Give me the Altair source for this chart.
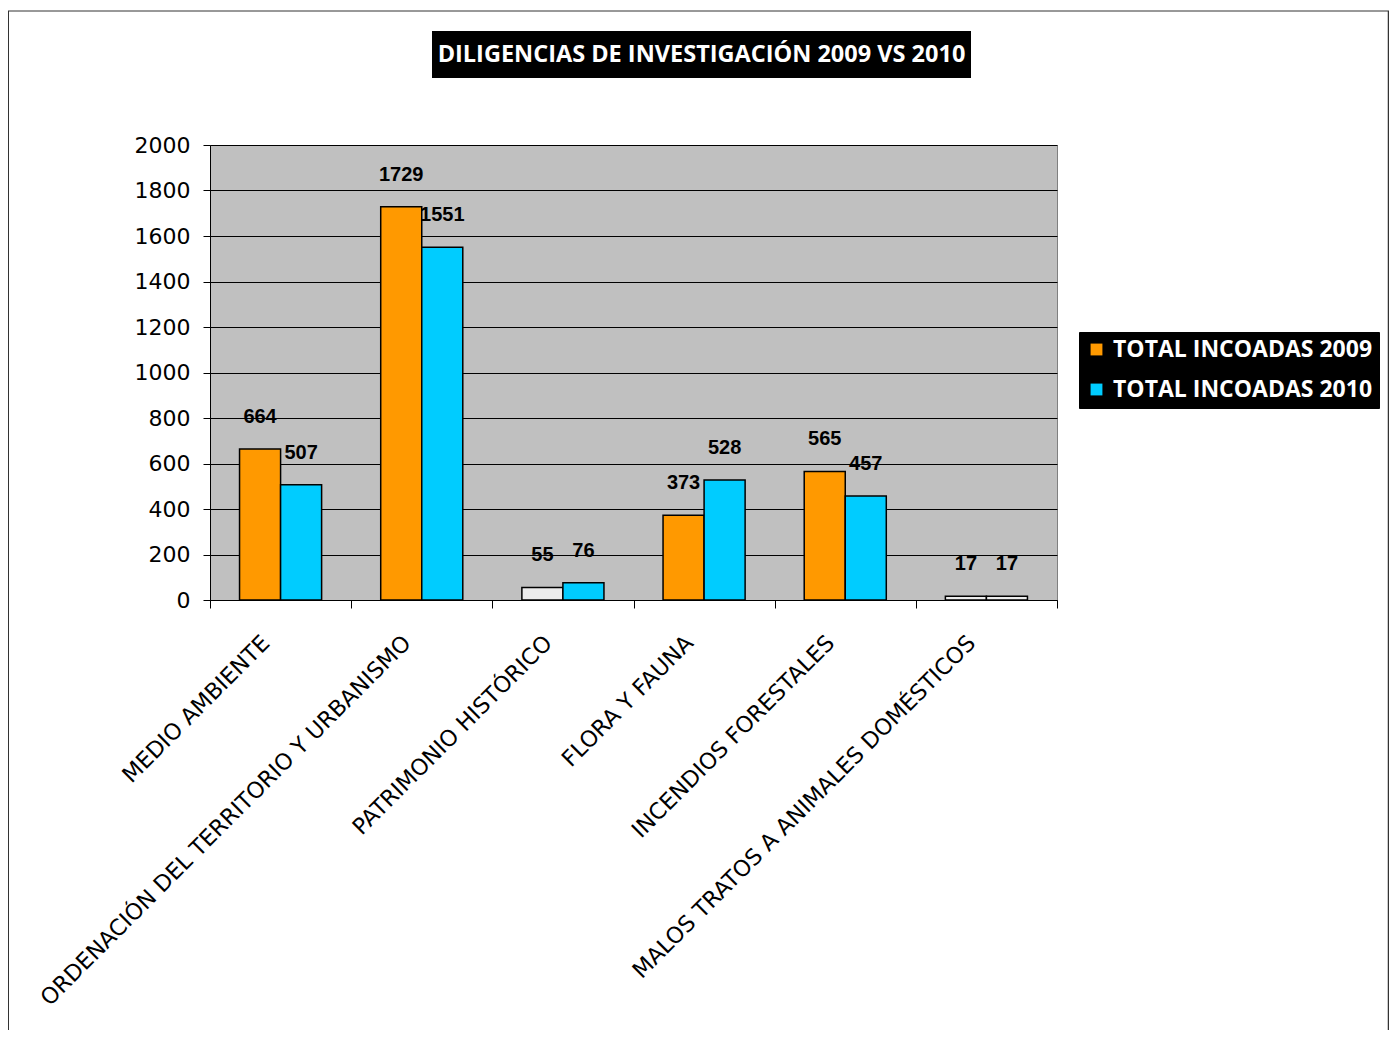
import altair as alt
import pandas as pd

categorias = [
    "MEDIO AMBIENTE",
    "ORDENACIÓN DEL TERRITORIO Y URBANISMO",
    "PATRIMONIO HISTÓRICO",
    "FLORA Y FAUNA",
    "INCENDIOS FORESTALES",
    "MALOS TRATOS A ANIMALES DOMÉSTICOS",
]
total_2009 = [664, 1729, 55, 373, 565, 17]
total_2010 = [507, 1551, 76, 528, 457, 17]
series = ["TOTAL INCOADAS 2009", "TOTAL INCOADAS 2010"]
colores = ["#FF9900", "#00CCFF"]
titulo = "DILIGENCIAS DE INVESTIGACIÓN 2009 VS 2010"
y_ticks = list(range(0, 2001, 200))

rows = []
for c, a, b in zip(categorias, total_2009, total_2010):
    rows.append({"categoria": c, "serie": series[0], "valor": a})
    rows.append({"categoria": c, "serie": series[1], "valor": b})
df = pd.DataFrame(rows)

W, H = 847, 455

x_enc = alt.X(
    "categoria:N",
    sort=categorias,
    scale=alt.Scale(paddingInner=0, paddingOuter=0),
    axis=alt.Axis(
        title=None, labelAngle=315, labelAlign="right", labelBaseline="middle",
        labelFontSize=22.4, labelFont="DejaVu Sans", labelColor="black",
        labelPadding=31, labelOffset=-15, labelLimit=0, tickBand="extent", tickSize=8,
        tickColor="black", domainColor="black", grid=False,
    ),
)
xo_enc = alt.XOffset(
    "serie:N", sort=series, scale=alt.Scale(paddingInner=0, paddingOuter=0.72)
)
y_enc = alt.Y(
    "valor:Q",
    scale=alt.Scale(domain=[0, 2000]),
    axis=alt.Axis(
        values=y_ticks, format="d", title=None, labelFontSize=22,
        labelFont="DejaVu Sans", labelColor="black", tickSize=7,
        tickColor="black", domainColor="black", gridColor="black",
        gridWidth=1, gridOpacity=1, labelPadding=13, grid=True,
    ),
)

base = alt.Chart(df)

bars = base.mark_bar(stroke="black", strokeWidth=1.5).encode(
    x=x_enc,
    xOffset=xo_enc,
    y=y_enc,
    fill=alt.condition(
        "datum.valor < 60",
        alt.value("#ececec"),
        alt.Fill(
            "serie:N",
            scale=alt.Scale(domain=series, range=colores),
            legend=alt.Legend(
                title=None, orient="none", legendX=869, legendY=187,
                fillColor="black", strokeColor="black", padding=6,
                symbolType="square", symbolSize=140, symbolStrokeWidth=0,
                labelColor="white", labelFont="Open Sans", labelFontWeight="bold",
                labelFontSize=23, labelLimit=0, rowPadding=16, labelOffset=5,
            ),
        ),
    ),
)

labels = base.mark_text(
    font="Liberation Sans", fontWeight="bold", fontSize=20,
    baseline="middle", dy=-32, color="black",
).encode(x=x_enc, xOffset=xo_enc, y=y_enc, text="valor:Q")

tdf = pd.DataFrame({"t": [titulo]})
title_box = alt.Chart(tdf).mark_rect(fill="black").encode(
    x=alt.value(222), x2=alt.value(761), y=alt.value(-114), y2=alt.value(-67)
)
title_text = alt.Chart(tdf).mark_text(
    font="Open Sans", fontWeight="bold", fontSize=23.5, color="white",
    align="center", baseline="middle",
).encode(x=alt.value(491.5), y=alt.value(-90.5), text="t:N")

frame_left = alt.Chart(tdf).mark_rule(color="#333333", strokeWidth=1).encode(
    x=alt.value(-201.5), y=alt.value(-134), y2=alt.value(900)
)
frame_top = alt.Chart(tdf).mark_rule(color="#333333", strokeWidth=1).encode(
    x=alt.value(-202), x2=alt.value(1179), y=alt.value(-134)
)
frame_right = alt.Chart(tdf).mark_rule(color="#333333", strokeWidth=1.5).encode(
    x=alt.value(1178.5), y=alt.value(-134), y2=alt.value(900)
)

chart = alt.layer(
    bars, labels, title_box, title_text, frame_left, frame_top, frame_right
).properties(
    width=W, height=H,
    autosize=alt.AutoSizeParams(type="none"),
    padding={"left": 202, "top": 137, "right": 332, "bottom": 430},
    background="white",
).configure_view(
    fill="#C0C0C0", stroke="#808080", strokeWidth=1
)

chart.save("out.html", embed_options={"renderer": "svg", "actions": False})
